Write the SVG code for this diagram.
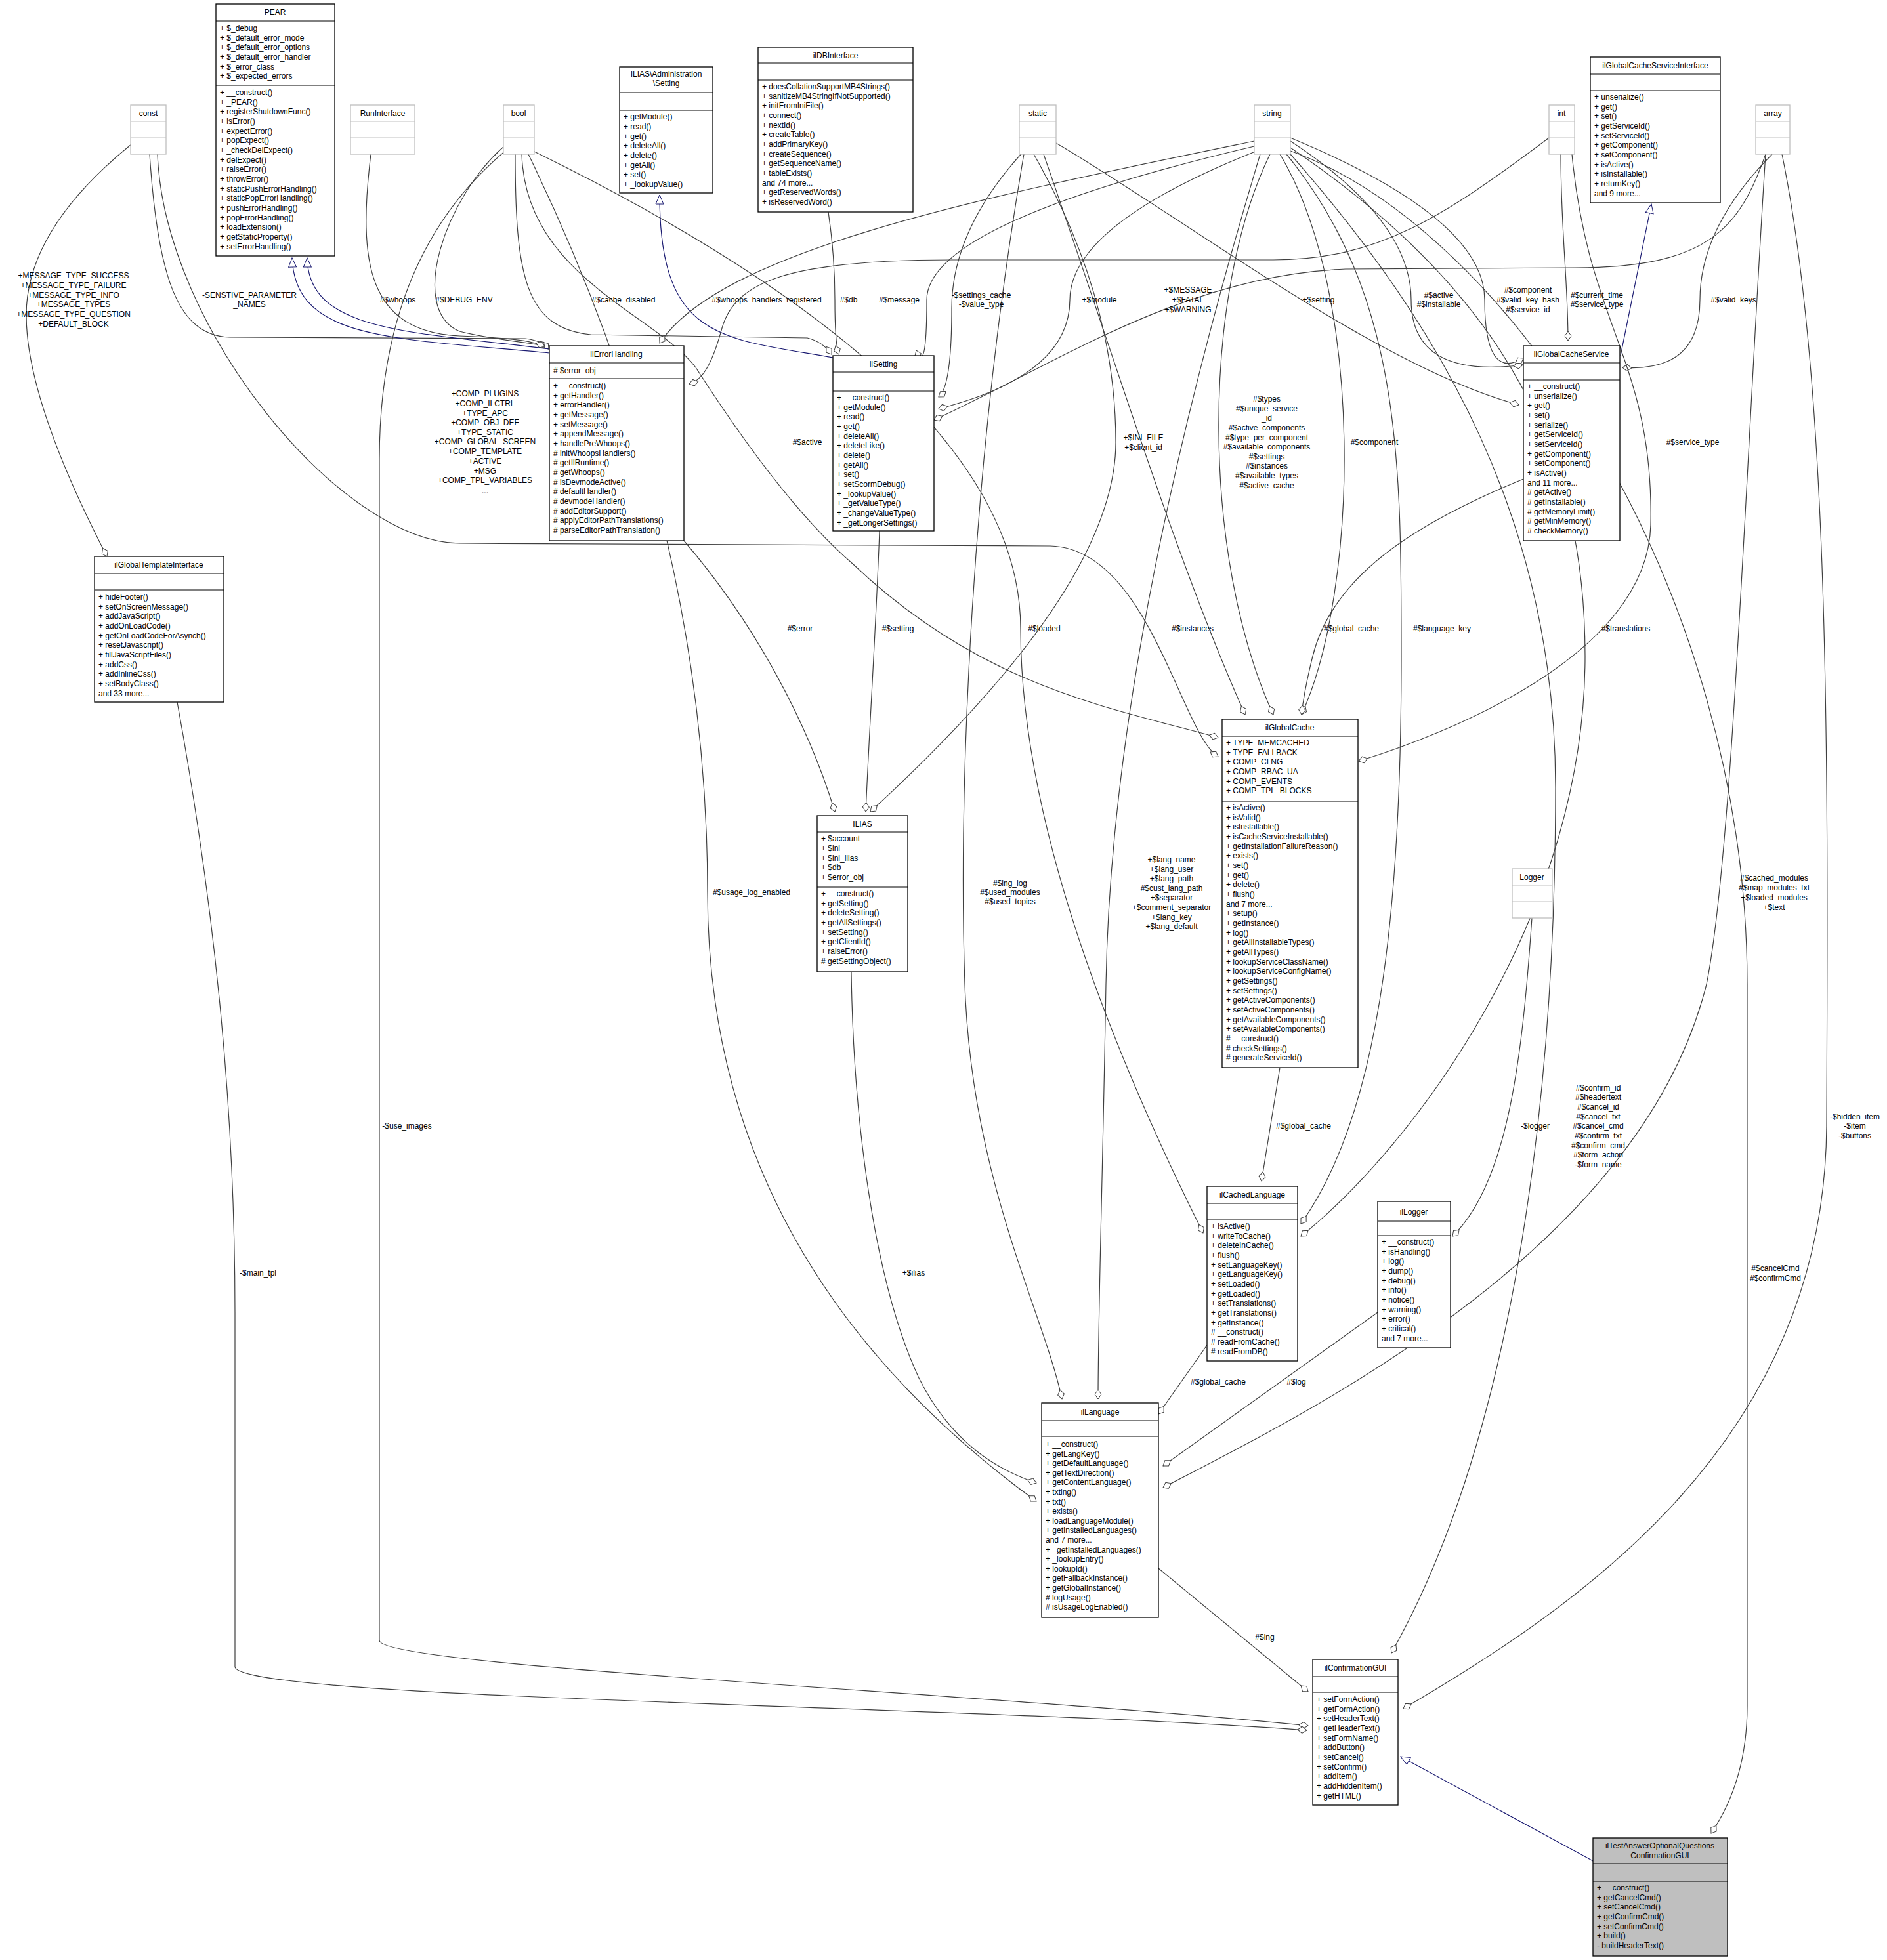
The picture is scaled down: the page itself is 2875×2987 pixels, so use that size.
<svg xmlns="http://www.w3.org/2000/svg" width="2875" height="2987" viewBox="0 0 2875 2987">
<style>
text{font-family:"Liberation Sans",Arial,sans-serif;font-size:12px;fill:#000}
.m{text-anchor:middle}
.b{fill:#fff;stroke:#000;stroke-width:1.3}
.h{fill:#bfbfbf;stroke:#000;stroke-width:1.3}
.g{fill:#fff;stroke:#bfbfbf;stroke-width:1.3}
.e path{fill:none;stroke:#404040;stroke-width:1.2;marker-end:url(#d)}
.e path.i{stroke:#191970;marker-end:url(#t)}
.l text{text-anchor:middle}
</style>
<defs>
<marker id="d" markerUnits="userSpaceOnUse" markerWidth="16" markerHeight="12" refX="14" refY="5" orient="auto" viewBox="-1 -1 16 12"><path d="M0,5 L7,0 L14,5 L7,10 Z" fill="#fff" stroke="#404040"/></marker>
<marker id="t" markerUnits="userSpaceOnUse" markerWidth="16" markerHeight="14" refX="14" refY="6" orient="auto" viewBox="-1 -1 16 14"><path d="M0,0 L14,6 L0,12 Z" fill="#fff" stroke="#191970"/></marker>
</defs>
<rect width="2875" height="2987" fill="#fff"/>
<g id="edges" class="e">
<path d="M200,220 Q40,350 40,480 T163,848"/>
<path d="M228,235 C240,420 270,512 350,514 L800,516 C820,518 830,525 836,532"/>
<path d="M240,235 C250,500 520,826 700,828 L1600,832 C1750,835 1800,1120 1856,1153"/>
<path d="M565,235 C545,400 560,505 700,512 C780,515 820,520 830,530"/>
<path d="M767,224 C680,300 620,470 700,505 C760,520 815,522 830,528"/>
<path d="M770,230 C650,330 578,480 578,700 L578,2500 C580,2540 1500,2580 1993,2630"/>
<path d="M785,235 C785,420 800,500 900,510 L1230,515 C1250,520 1260,530 1267,540"/>
<path d="M795,235 C800,420 1000,480 1060,560 C1150,700 1230,800 1300,860 C1500,1050 1700,1080 1856,1124"/>
<path d="M805,235 Q1078,797 1078,1360 T1579,2288"/>
<path d="M812,230 Q1555,594 1555,958 T1833,1879"/>
<path class="i" d="M837,538 C600,515 450,520 445,393"/>
<path class="i" d="M837,532 C620,505 470,505 468,393"/>
<path class="i" d="M1269,545 C1100,515 1005,520 1005,297"/>
<path d="M1262,323 Q1272,390 1272,457 T1278,540"/>
<path d="M1911,215 C1500,300 1100,380 1005,523"/>
<path d="M1915,222 Q1412,340 1412,457 T1396,534"/>
<path d="M1560,230 Q1450,350 1450,470 T1430,605"/>
<path d="M1920,228 Q1630,342 1630,457 T1430,623"/>
<path d="M2360,210 C2200,330 2100,396 1940,396 L1450,396 C1200,396 1120,430 1100,500 C1085,555 1070,580 1050,585"/>
<path d="M2690,235 C2650,350 2600,408 2400,408 L2050,410 C1800,420 1600,560 1423,640"/>
<path d="M1966,215 Q2150,336 2150,457 T2320,556"/>
<path d="M1966,210 Q2262,333 2262,457 T2321,546"/>
<path d="M2378,235 C2378,350 2389,430 2389,519"/>
<path d="M2700,235 Q2590,346 2590,457 T2472,560"/>
<path class="i" d="M2469,542 L2516,311"/>
<path d="M1609,218 C1800,330 2100,560 2314,617"/>
<path d="M1575,235 Q1700,454 1700,674 T1326,1237"/>
<path d="M1935,235 C1830,450 1830,850 1940,1089"/>
<path d="M1950,235 C2080,450 2070,900 1983,1089"/>
<path d="M2395,235 C2420,500 2520,550 2515,800 C2510,1000 2200,1120 2070,1160"/>
<path d="M1590,235 C1700,550 1790,850 1897,1089"/>
<path d="M2321,730 C2150,800 2030,880 2000,1000 C1990,1040 1985,1070 1983,1089"/>
<path d="M1960,235 C2135,450 2135,700 2135,1000 C2135,1400 2100,1700 1982,1865"/>
<path d="M1966,225 C2300,450 2415,700 2415,1000 C2415,1400 2150,1750 1982,1884"/>
<path d="M1042,824 C1150,950 1230,1100 1272,1237"/>
<path d="M1340,809 C1335,950 1325,1100 1319,1237"/>
<path d="M1560,235 C1480,700 1460,1200 1470,1500 C1480,1800 1590,2000 1618,2132"/>
<path d="M1920,235 C1750,800 1690,1200 1685,1500 C1680,1800 1673,2000 1673,2132"/>
<path d="M2334,1399 C2320,1600 2300,1800 2213,1884"/>
<path d="M1966,235 C2200,500 2370,800 2370,1200 C2370,1700 2300,2200 2120,2519"/>
<path d="M2690,235 C2660,700 2640,1300 2600,1500 C2500,1900 2000,2150 1772,2267"/>
<path d="M2715,235 C2790,600 2785,1200 2783,1716 C2780,2200 2400,2450 2138,2604"/>
<path d="M1966,230 C2300,350 2662,900 2662,1500 L2662,2600 C2662,2700 2630,2760 2607,2794"/>
<path d="M1950,1627 L1922,1800"/>
<path d="M1839,2050 L1765,2155"/>
<path d="M2099,2000 L1772,2234"/>
<path d="M1297,1481 C1300,1700 1330,1950 1400,2100 C1450,2200 1520,2240 1579,2260"/>
<path d="M1765,2390 L1993,2578"/>
<path d="M270,1070 C330,1400 358,1700 358,2000 L358,2540 C360,2590 1500,2600 1991,2637"/>
<path class="i" d="M2427,2836 L2134,2677"/>
</g>
<g id="labels" class="l">
<text x="112" y="424">+MESSAGE_TYPE_SUCCESS</text><text x="112" y="439">+MESSAGE_TYPE_FAILURE</text><text x="112" y="454">+MESSAGE_TYPE_INFO</text><text x="112" y="468">+MESSAGE_TYPES</text><text x="112" y="483">+MESSAGE_TYPE_QUESTION</text><text x="112" y="498">+DEFAULT_BLOCK</text>
<text x="380" y="454">-SENSTIVE_PARAMETER</text><text x="380" y="468">_NAMES</text>
<text x="739" y="604">+COMP_PLUGINS</text><text x="739" y="619">+COMP_ILCTRL</text><text x="739" y="634">+TYPE_APC</text><text x="739" y="648">+COMP_OBJ_DEF</text><text x="739" y="663">+TYPE_STATIC</text><text x="739" y="677">+COMP_GLOBAL_SCREEN</text><text x="739" y="692">+COMP_TEMPLATE</text><text x="739" y="707">+ACTIVE</text><text x="739" y="722">+MSG</text><text x="739" y="736">+COMP_TPL_VARIABLES</text><text x="739" y="752">...</text>
<text x="606" y="461">#$whoops</text>
<text x="707" y="461">#$DEBUG_ENV</text>
<text x="950" y="461">#$cache_disabled</text>
<text x="1230" y="678">#$active</text>
<text x="1168" y="461">#$whoops_handlers_registered</text>
<text x="1293" y="461">#$db</text>
<text x="1370" y="461">#$message</text>
<text x="1495" y="454">-$settings_cache</text><text x="1495" y="468">-$value_type</text>
<text x="1675" y="461">+$module</text>
<text x="1810" y="446">+$MESSAGE</text><text x="1810" y="461">+$FATAL</text><text x="1810" y="476">+$WARNING</text>
<text x="2009" y="461">+$setting</text>
<text x="2192" y="454">#$active</text><text x="2192" y="468">#$installable</text>
<text x="2328" y="446">#$component</text><text x="2328" y="461">#$valid_key_hash</text><text x="2328" y="476">#$service_id</text>
<text x="2433" y="454">#$current_time</text><text x="2433" y="468">#$service_type</text>
<text x="2641" y="461">#$valid_keys</text>
<text x="1742" y="671">+$INI_FILE</text><text x="1742" y="686">+$client_id</text>
<text x="1930" y="612">#$types</text><text x="1930" y="627">#$unique_service</text><text x="1930" y="641">_id</text><text x="1930" y="656">#$active_components</text><text x="1930" y="671">#$type_per_component</text><text x="1930" y="685">#$available_components</text><text x="1930" y="700">#$settings</text><text x="1930" y="714">#$instances</text><text x="1930" y="729">#$available_types</text><text x="1930" y="744">#$active_cache</text>
<text x="2094" y="678">#$component</text>
<text x="2579" y="678">#$service_type</text>
<text x="1591" y="962">#$loaded</text>
<text x="1817" y="962">#$instances</text>
<text x="2059" y="962">#$global_cache</text>
<text x="2197" y="962">#$language_key</text>
<text x="2477" y="962">#$translations</text>
<text x="1219" y="962">#$error</text>
<text x="1368" y="962">#$setting</text>
<text x="1145" y="1364">#$usage_log_enabled</text>
<text x="1539" y="1350">#$lng_log</text><text x="1539" y="1364">#$used_modules</text><text x="1539" y="1378">#$used_topics</text>
<text x="1785" y="1314">+$lang_name</text><text x="1785" y="1329">+$lang_user</text><text x="1785" y="1343">+$lang_path</text><text x="1785" y="1358">#$cust_lang_path</text><text x="1785" y="1372">+$separator</text><text x="1785" y="1387">+$comment_separator</text><text x="1785" y="1402">+$lang_key</text><text x="1785" y="1416">+$lang_default</text>
<text x="2703" y="1342">#$cached_modules</text><text x="2703" y="1357">#$map_modules_txt</text><text x="2703" y="1372">+$loaded_modules</text><text x="2703" y="1387">+$text</text>
<text x="2339" y="1720">-$logger</text>
<text x="2435" y="1662">#$confirm_id</text><text x="2435" y="1676">#$headertext</text><text x="2435" y="1691">#$cancel_id</text><text x="2435" y="1706">#$cancel_txt</text><text x="2435" y="1720">#$cancel_cmd</text><text x="2435" y="1735">#$confirm_txt</text><text x="2435" y="1750">#$confirm_cmd</text><text x="2435" y="1764">#$form_action</text><text x="2435" y="1779">-$form_name</text>
<text x="2826" y="1706">-$hidden_item</text><text x="2826" y="1720">-$item</text><text x="2826" y="1735">-$buttons</text>
<text x="2705" y="1937">#$cancelCmd</text><text x="2705" y="1952">#$confirmCmd</text>
<text x="1986" y="1720">#$global_cache</text>
<text x="620" y="1720">-$use_images</text>
<text x="393" y="1944">-$main_tpl</text>
<text x="1392" y="1944">+$ilias</text>
<text x="1856" y="2110">#$global_cache</text>
<text x="1975" y="2110">#$log</text>
<text x="1927" y="2499">#$lng</text>
</g>
<g id="PEAR"><rect class="b" x="329" y="6" width="181" height="384"/><line x1="329" y1="32" x2="510" y2="32" stroke="#000"/><line x1="329" y1="130" x2="510" y2="130" stroke="#000"/>
<text class="m" x="419" y="23">PEAR</text>
<text x="335" y="47">+ $_debug</text><text x="335" y="62">+ $_default_error_mode</text><text x="335" y="76">+ $_default_error_options</text><text x="335" y="91">+ $_default_error_handler</text><text x="335" y="106">+ $_error_class</text><text x="335" y="120">+ $_expected_errors</text>
<text x="335" y="145">+ __construct()</text><text x="335" y="160">+ _PEAR()</text><text x="335" y="174">+ registerShutdownFunc()</text><text x="335" y="189">+ isError()</text><text x="335" y="204">+ expectError()</text><text x="335" y="218">+ popExpect()</text><text x="335" y="233">+ _checkDelExpect()</text><text x="335" y="248">+ delExpect()</text><text x="335" y="262">+ raiseError()</text><text x="335" y="277">+ throwError()</text><text x="335" y="292">+ staticPushErrorHandling()</text><text x="335" y="306">+ staticPopErrorHandling()</text><text x="335" y="321">+ pushErrorHandling()</text><text x="335" y="336">+ popErrorHandling()</text><text x="335" y="350">+ loadExtension()</text><text x="335" y="365">+ getStaticProperty()</text><text x="335" y="380">+ setErrorHandling()</text>
</g>
<g id="const"><rect class="g" x="199" y="160" width="54" height="75"/><line x1="199" y1="185" x2="253" y2="185" stroke="#bfbfbf"/><line x1="199" y1="210" x2="253" y2="210" stroke="#bfbfbf"/><text class="m" x="226" y="177">const</text></g>
<g id="RunInterface"><rect class="g" x="534" y="160" width="98" height="75"/><line x1="534" y1="185" x2="632" y2="185" stroke="#bfbfbf"/><line x1="534" y1="210" x2="632" y2="210" stroke="#bfbfbf"/><text class="m" x="583" y="177">RunInterface</text></g>
<g id="bool"><rect class="g" x="767" y="160" width="47" height="75"/><line x1="767" y1="185" x2="814" y2="185" stroke="#bfbfbf"/><line x1="767" y1="210" x2="814" y2="210" stroke="#bfbfbf"/><text class="m" x="790" y="177">bool</text></g>
<g id="static"><rect class="g" x="1553" y="160" width="56" height="75"/><line x1="1553" y1="185" x2="1609" y2="185" stroke="#bfbfbf"/><line x1="1553" y1="210" x2="1609" y2="210" stroke="#bfbfbf"/><text class="m" x="1581" y="177">static</text></g>
<g id="string"><rect class="g" x="1911" y="160" width="55" height="75"/><line x1="1911" y1="185" x2="1966" y2="185" stroke="#bfbfbf"/><line x1="1911" y1="210" x2="1966" y2="210" stroke="#bfbfbf"/><text class="m" x="1938" y="177">string</text></g>
<g id="int"><rect class="g" x="2360" y="160" width="39" height="75"/><line x1="2360" y1="185" x2="2399" y2="185" stroke="#bfbfbf"/><line x1="2360" y1="210" x2="2399" y2="210" stroke="#bfbfbf"/><text class="m" x="2379" y="177">int</text></g>
<g id="array"><rect class="g" x="2675" y="160" width="52" height="75"/><line x1="2675" y1="185" x2="2727" y2="185" stroke="#bfbfbf"/><line x1="2675" y1="210" x2="2727" y2="210" stroke="#bfbfbf"/><text class="m" x="2701" y="177">array</text></g>
<g id="Logger"><rect class="g" x="2304" y="1324" width="61" height="75"/><line x1="2304" y1="1349" x2="2365" y2="1349" stroke="#bfbfbf"/><line x1="2304" y1="1374" x2="2365" y2="1374" stroke="#bfbfbf"/><text class="m" x="2334" y="1341">Logger</text></g>
<g id="Setting"><rect class="b" x="944" y="102" width="142" height="192"/><line x1="944" y1="141" x2="1086" y2="141" stroke="#000"/><line x1="944" y1="168" x2="1086" y2="168" stroke="#000"/>
<text class="m" x="1015" y="117">ILIAS\Administration</text><text class="m" x="1015" y="131">\Setting</text>
<text x="950" y="182">+ getModule()</text><text x="950" y="197">+ read()</text><text x="950" y="212">+ get()</text><text x="950" y="226">+ deleteAll()</text><text x="950" y="241">+ delete()</text><text x="950" y="256">+ getAll()</text><text x="950" y="270">+ set()</text><text x="950" y="285">+ _lookupValue()</text></g>
<g id="ilDBInterface"><rect class="b" x="1155" y="72" width="236" height="251"/><line x1="1155" y1="96" x2="1391" y2="96" stroke="#000"/><line x1="1155" y1="122" x2="1391" y2="122" stroke="#000"/>
<text class="m" x="1273" y="89">ilDBInterface</text>
<text x="1161" y="136">+ doesCollationSupportMB4Strings()</text><text x="1161" y="151">+ sanitizeMB4StringIfNotSupported()</text><text x="1161" y="165">+ initFromIniFile()</text><text x="1161" y="180">+ connect()</text><text x="1161" y="195">+ nextId()</text><text x="1161" y="209">+ createTable()</text><text x="1161" y="224">+ addPrimaryKey()</text><text x="1161" y="239">+ createSequence()</text><text x="1161" y="253">+ getSequenceName()</text><text x="1161" y="268">+ tableExists()</text><text x="1161" y="283">and 74 more...</text><text x="1161" y="297">+ getReservedWords()</text><text x="1161" y="312">+ isReservedWord()</text></g>
<g id="ilErrorHandling"><rect class="b" x="837" y="527" width="205" height="297"/><line x1="837" y1="553" x2="1042" y2="553" stroke="#000"/><line x1="837" y1="577" x2="1042" y2="577" stroke="#000"/>
<text class="m" x="939" y="544">ilErrorHandling</text><text x="843" y="569"># $error_obj</text>
<text x="843" y="592">+ __construct()</text><text x="843" y="607">+ getHandler()</text><text x="843" y="621">+ errorHandler()</text><text x="843" y="636">+ getMessage()</text><text x="843" y="651">+ setMessage()</text><text x="843" y="665">+ appendMessage()</text><text x="843" y="680">+ handlePreWhoops()</text><text x="843" y="695"># initWhoopsHandlers()</text><text x="843" y="709"># getIlRuntime()</text><text x="843" y="724"># getWhoops()</text><text x="843" y="739"># isDevmodeActive()</text><text x="843" y="753"># defaultHandler()</text><text x="843" y="768"># devmodeHandler()</text><text x="843" y="783"># addEditorSupport()</text><text x="843" y="797"># applyEditorPathTranslations()</text><text x="843" y="812"># parseEditorPathTranslation()</text></g>
<g id="ilSetting"><rect class="b" x="1269" y="542" width="154" height="267"/><line x1="1269" y1="567" x2="1423" y2="567" stroke="#000"/><line x1="1269" y1="596" x2="1423" y2="596" stroke="#000"/>
<text class="m" x="1346" y="559">ilSetting</text>
<text x="1275" y="610">+ __construct()</text><text x="1275" y="625">+ getModule()</text><text x="1275" y="639">+ read()</text><text x="1275" y="654">+ get()</text><text x="1275" y="669">+ deleteAll()</text><text x="1275" y="683">+ deleteLike()</text><text x="1275" y="698">+ delete()</text><text x="1275" y="713">+ getAll()</text><text x="1275" y="727">+ set()</text><text x="1275" y="742">+ setScormDebug()</text><text x="1275" y="757">+ _lookupValue()</text><text x="1275" y="771">+ _getValueType()</text><text x="1275" y="786">+ _changeValueType()</text><text x="1275" y="801">+ _getLongerSettings()</text></g>
<g id="ilGlobalTemplateInterface"><rect class="b" x="144" y="848" width="197" height="222"/><line x1="144" y1="874" x2="341" y2="874" stroke="#000"/><line x1="144" y1="899" x2="341" y2="899" stroke="#000"/>
<text class="m" x="242" y="865">ilGlobalTemplateInterface</text>
<text x="150" y="914">+ hideFooter()</text><text x="150" y="929">+ setOnScreenMessage()</text><text x="150" y="943">+ addJavaScript()</text><text x="150" y="958">+ addOnLoadCode()</text><text x="150" y="973">+ getOnLoadCodeForAsynch()</text><text x="150" y="987">+ resetJavascript()</text><text x="150" y="1002">+ fillJavaScriptFiles()</text><text x="150" y="1017">+ addCss()</text><text x="150" y="1031">+ addInlineCss()</text><text x="150" y="1046">+ setBodyClass()</text><text x="150" y="1061">and 33 more...</text></g>
<g id="ILIAS"><rect class="b" x="1245" y="1243" width="138" height="238"/><line x1="1245" y1="1268" x2="1383" y2="1268" stroke="#000"/><line x1="1245" y1="1352" x2="1383" y2="1352" stroke="#000"/>
<text class="m" x="1314" y="1260">ILIAS</text>
<text x="1251" y="1282">+ $account</text><text x="1251" y="1297">+ $ini</text><text x="1251" y="1312">+ $ini_ilias</text><text x="1251" y="1326">+ $db</text><text x="1251" y="1341">+ $error_obj</text>
<text x="1251" y="1366">+ __construct()</text><text x="1251" y="1381">+ getSetting()</text><text x="1251" y="1395">+ deleteSetting()</text><text x="1251" y="1410">+ getAllSettings()</text><text x="1251" y="1425">+ setSetting()</text><text x="1251" y="1439">+ getClientId()</text><text x="1251" y="1454">+ raiseError()</text><text x="1251" y="1469"># getSettingObject()</text></g>
<g id="ilGlobalCacheServiceInterface"><rect class="b" x="2423" y="87" width="198" height="222"/><line x1="2423" y1="113" x2="2621" y2="113" stroke="#000"/><line x1="2423" y1="138" x2="2621" y2="138" stroke="#000"/>
<text class="m" x="2522" y="104">ilGlobalCacheServiceInterface</text>
<text x="2429" y="152">+ unserialize()</text><text x="2429" y="167">+ get()</text><text x="2429" y="181">+ set()</text><text x="2429" y="196">+ getServiceId()</text><text x="2429" y="211">+ setServiceId()</text><text x="2429" y="225">+ getComponent()</text><text x="2429" y="240">+ setComponent()</text><text x="2429" y="255">+ isActive()</text><text x="2429" y="269">+ isInstallable()</text><text x="2429" y="284">+ returnKey()</text><text x="2429" y="299">and 9 more...</text></g>
<g id="ilGlobalCacheService"><rect class="b" x="2321" y="527" width="147" height="297"/><line x1="2321" y1="553" x2="2468" y2="553" stroke="#000"/><line x1="2321" y1="579" x2="2468" y2="579" stroke="#000"/>
<text class="m" x="2394" y="544">ilGlobalCacheService</text>
<text x="2327" y="593">+ __construct()</text><text x="2327" y="608">+ unserialize()</text><text x="2327" y="622">+ get()</text><text x="2327" y="637">+ set()</text><text x="2327" y="652">+ serialize()</text><text x="2327" y="666">+ getServiceId()</text><text x="2327" y="681">+ setServiceId()</text><text x="2327" y="696">+ getComponent()</text><text x="2327" y="710">+ setComponent()</text><text x="2327" y="725">+ isActive()</text><text x="2327" y="740">and 11 more...</text><text x="2327" y="754"># getActive()</text><text x="2327" y="769"># getInstallable()</text><text x="2327" y="784"># getMemoryLimit()</text><text x="2327" y="798"># getMinMemory()</text><text x="2327" y="813"># checkMemory()</text></g>
<g id="ilGlobalCache"><rect class="b" x="1862" y="1096" width="207" height="531"/><line x1="1862" y1="1122" x2="2069" y2="1122" stroke="#000"/><line x1="1862" y1="1221" x2="2069" y2="1221" stroke="#000"/>
<text class="m" x="1965" y="1113">ilGlobalCache</text>
<text x="1868" y="1136">+ TYPE_MEMCACHED</text><text x="1868" y="1151">+ TYPE_FALLBACK</text><text x="1868" y="1165">+ COMP_CLNG</text><text x="1868" y="1180">+ COMP_RBAC_UA</text><text x="1868" y="1195">+ COMP_EVENTS</text><text x="1868" y="1209">+ COMP_TPL_BLOCKS</text>
<text x="1868" y="1235">+ isActive()</text><text x="1868" y="1250">+ isValid()</text><text x="1868" y="1264">+ isInstallable()</text><text x="1868" y="1279">+ isCacheServiceInstallable()</text><text x="1868" y="1294">+ getInstallationFailureReason()</text><text x="1868" y="1308">+ exists()</text><text x="1868" y="1323">+ set()</text><text x="1868" y="1338">+ get()</text><text x="1868" y="1352">+ delete()</text><text x="1868" y="1367">+ flush()</text><text x="1868" y="1382">and 7 more...</text><text x="1868" y="1396">+ setup()</text><text x="1868" y="1411">+ getInstance()</text><text x="1868" y="1426">+ log()</text><text x="1868" y="1440">+ getAllInstallableTypes()</text><text x="1868" y="1455">+ getAllTypes()</text><text x="1868" y="1470">+ lookupServiceClassName()</text><text x="1868" y="1484">+ lookupServiceConfigName()</text><text x="1868" y="1499">+ getSettings()</text><text x="1868" y="1514">+ setSettings()</text><text x="1868" y="1528">+ getActiveComponents()</text><text x="1868" y="1543">+ setActiveComponents()</text><text x="1868" y="1558">+ getAvailableComponents()</text><text x="1868" y="1572">+ setAvailableComponents()</text><text x="1868" y="1587"># __construct()</text><text x="1868" y="1602"># checkSettings()</text><text x="1868" y="1616"># generateServiceId()</text></g>
<g id="ilCachedLanguage"><rect class="b" x="1839" y="1808" width="138" height="266"/><line x1="1839" y1="1834" x2="1977" y2="1834" stroke="#000"/><line x1="1839" y1="1859" x2="1977" y2="1859" stroke="#000"/>
<text class="m" x="1908" y="1825">ilCachedLanguage</text>
<text x="1845" y="1873">+ isActive()</text><text x="1845" y="1888">+ writeToCache()</text><text x="1845" y="1902">+ deleteInCache()</text><text x="1845" y="1917">+ flush()</text><text x="1845" y="1932">+ setLanguageKey()</text><text x="1845" y="1946">+ getLanguageKey()</text><text x="1845" y="1961">+ setLoaded()</text><text x="1845" y="1976">+ getLoaded()</text><text x="1845" y="1990">+ setTranslations()</text><text x="1845" y="2005">+ getTranslations()</text><text x="1845" y="2020">+ getInstance()</text><text x="1845" y="2034"># __construct()</text><text x="1845" y="2049"># readFromCache()</text><text x="1845" y="2064"># readFromDB()</text></g>
<g id="ilLogger"><rect class="b" x="2099" y="1831" width="111" height="223"/><line x1="2099" y1="1861" x2="2210" y2="1861" stroke="#000"/><line x1="2099" y1="1883" x2="2210" y2="1883" stroke="#000"/>
<text class="m" x="2154" y="1851">ilLogger</text>
<text x="2105" y="1897">+ __construct()</text><text x="2105" y="1912">+ isHandling()</text><text x="2105" y="1926">+ log()</text><text x="2105" y="1941">+ dump()</text><text x="2105" y="1956">+ debug()</text><text x="2105" y="1970">+ info()</text><text x="2105" y="1985">+ notice()</text><text x="2105" y="2000">+ warning()</text><text x="2105" y="2014">+ error()</text><text x="2105" y="2029">+ critical()</text><text x="2105" y="2044">and 7 more...</text></g>
<g id="ilLanguage"><rect class="b" x="1587" y="2138" width="178" height="327"/><line x1="1587" y1="2165" x2="1765" y2="2165" stroke="#000"/><line x1="1587" y1="2189" x2="1765" y2="2189" stroke="#000"/>
<text class="m" x="1676" y="2156">ilLanguage</text>
<text x="1593" y="2205">+ __construct()</text><text x="1593" y="2220">+ getLangKey()</text><text x="1593" y="2234">+ getDefaultLanguage()</text><text x="1593" y="2249">+ getTextDirection()</text><text x="1593" y="2263">+ getContentLanguage()</text><text x="1593" y="2278">+ txtlng()</text><text x="1593" y="2293">+ txt()</text><text x="1593" y="2307">+ exists()</text><text x="1593" y="2322">+ loadLanguageModule()</text><text x="1593" y="2336">+ getInstalledLanguages()</text><text x="1593" y="2351">and 7 more...</text><text x="1593" y="2366">+ _getInstalledLanguages()</text><text x="1593" y="2380">+ _lookupEntry()</text><text x="1593" y="2395">+ lookupId()</text><text x="1593" y="2409">+ getFallbackInstance()</text><text x="1593" y="2424">+ getGlobalInstance()</text><text x="1593" y="2439"># logUsage()</text><text x="1593" y="2453"># isUsageLogEnabled()</text></g>
<g id="ilConfirmationGUI"><rect class="b" x="2000" y="2529" width="130" height="222"/><line x1="2000" y1="2555" x2="2130" y2="2555" stroke="#000"/><line x1="2000" y1="2579" x2="2130" y2="2579" stroke="#000"/>
<text class="m" x="2065" y="2546">ilConfirmationGUI</text>
<text x="2006" y="2594">+ setFormAction()</text><text x="2006" y="2609">+ getFormAction()</text><text x="2006" y="2623">+ setHeaderText()</text><text x="2006" y="2638">+ getHeaderText()</text><text x="2006" y="2653">+ setFormName()</text><text x="2006" y="2667">+ addButton()</text><text x="2006" y="2682">+ setCancel()</text><text x="2006" y="2697">+ setConfirm()</text><text x="2006" y="2711">+ addItem()</text><text x="2006" y="2726">+ addHiddenItem()</text><text x="2006" y="2741">+ getHTML()</text></g>
<g id="ilTestAnswerOptionalQuestionsConfirmationGUI"><rect class="h" x="2427" y="2801" width="205" height="180"/><line x1="2427" y1="2840" x2="2632" y2="2840" stroke="#000"/><line x1="2427" y1="2867" x2="2632" y2="2867" stroke="#000"/>
<text class="m" x="2529" y="2817">ilTestAnswerOptionalQuestions</text><text class="m" x="2529" y="2832">ConfirmationGUI</text>
<text x="2433" y="2881">+ __construct()</text><text x="2433" y="2896">+ getCancelCmd()</text><text x="2433" y="2910">+ setCancelCmd()</text><text x="2433" y="2925">+ getConfirmCmd()</text><text x="2433" y="2940">+ setConfirmCmd()</text><text x="2433" y="2954">+ build()</text><text x="2433" y="2969">- buildHeaderText()</text></g>
</svg>
